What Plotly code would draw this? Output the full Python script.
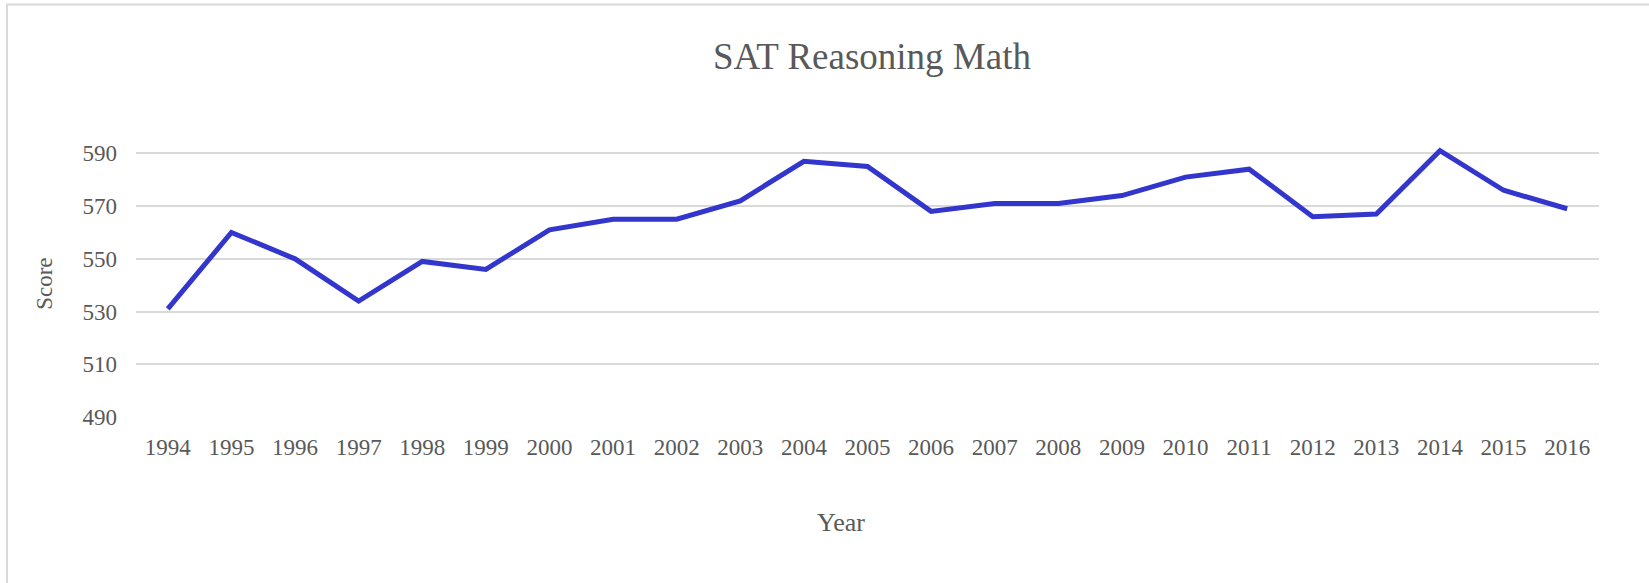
import plotly.graph_objects as go

years = list(range(1994, 2017))
scores = [531, 560, 550, 534, 549, 546, 561, 565, 565, 572, 587, 585,
          568, 571, 571, 574, 581, 584, 566, 567, 591, 576, 569]
y_ticks = [490, 510, 530, 550, 570, 590]

W, H = 1649, 583
L, R = 136, 1599
T, B = 127.4, 417
pw, ph = R - L, B - T

def px(x):
    return (x - L) / pw

def py(y):
    return (B - y) / ph

font_family = "Liberation Serif, Times New Roman, serif"
text_color = "#595959"
grid_color = "#d9d9d9"

fig = go.Figure()
fig.add_trace(go.Scatter(
    x=years, y=scores, mode="lines",
    line=dict(color="#3236cc", width=5),
    showlegend=False, hoverinfo="x+y",
))

fig.update_layout(
    width=W, height=H,
    margin=dict(l=L, r=W - R, t=T, b=H - B, pad=0),
    paper_bgcolor="white", plot_bgcolor="white",
    font=dict(family=font_family, color=text_color, size=23),
    title=dict(text="SAT Reasoning Math", font=dict(size=37, color=text_color, family=font_family),
               x=872 / W, xanchor="center", xref="container",
               y=1 - 56 / H, yanchor="middle", yref="container"),
    xaxis=dict(
        range=[1993.5, 2016.5], tickmode="array", tickvals=years,
        ticktext=[str(y) for y in years], showgrid=False, zeroline=False,
        showline=False, ticks="", ticklabelstandoff=14,
        tickfont=dict(size=23, color=text_color, family=font_family),
    ),
    yaxis=dict(
        range=[490, 600], tickmode="array", tickvals=y_ticks,
        showgrid=True, gridcolor=grid_color, gridwidth=1.5, zeroline=False,
        showline=False, ticks="", ticklabelstandoff=18,
        tickfont=dict(size=23, color=text_color, family=font_family),
    ),
    annotations=[
        dict(text="Score", x=px(45), y=py(284), xref="paper", yref="paper",
             showarrow=False, textangle=-90, xanchor="center", yanchor="middle",
             font=dict(size=23, color=text_color, family=font_family)),
        dict(text="Year", x=px(841), y=py(522), xref="paper", yref="paper",
             showarrow=False, xanchor="center", yanchor="middle",
             font=dict(size=26, color=text_color, family=font_family)),
    ],
    shapes=[
        dict(type="rect", xref="paper", yref="paper",
             x0=px(7), x1=px(1662), y0=py(5), y1=py(600),
             line=dict(color=grid_color, width=2), fillcolor="rgba(0,0,0,0)",
             layer="below"),
    ],
)

fig.write_html("out.html", config={"displayModeBar": False},
               post_script="document.body.style.margin='0';")
